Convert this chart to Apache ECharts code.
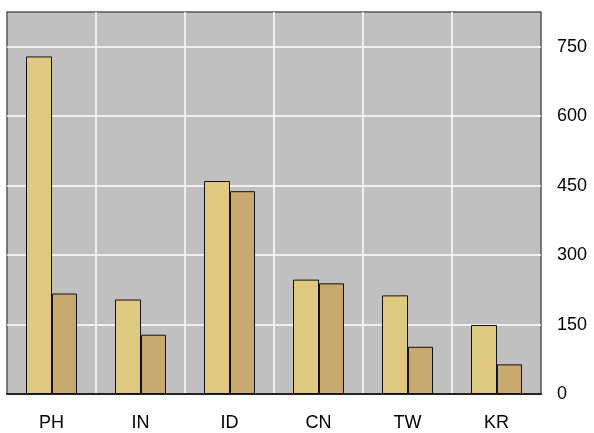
<!DOCTYPE html>
<html><head><meta charset="utf-8">
<script src="https://cdn.jsdelivr.net/npm/echarts@6/dist/echarts.min.js"></script>
<style>html,body{margin:0;padding:0;background:#fff}#c{width:594px;height:433px}</style>
</head><body><div id="c"></div>
<script>
const categories = ["PH","IN","ID","CN","TW","KR"];
const seriesA = [729, 204, 460, 247, 213, 149];
const seriesB = [217, 128, 438, 239, 102, 64];
const yTicks = {min: 0, max: 825, interval: 150};

const chart = echarts.init(document.getElementById('c'), null, {renderer: 'canvas'});
chart.setOption({
  animation: false,
  backgroundColor: '#ffffff',
  grid: {left: 7, right: 53, top: 12, bottom: 39, show: true, backgroundColor: '#c0c0c0', borderColor: '#555555', borderWidth: 1.5},
  xAxis: {
    type: 'category', data: categories,
    axisLine: {show: true, lineStyle: {color: '#222', width: 2}},
    axisTick: {show: false},
    axisLabel: {color: '#000', fontSize: 18, fontFamily: 'Liberation Sans, Arial, sans-serif', margin: 20},
    splitLine: {show: true, showMinLine: false, showMaxLine: false, lineStyle: {color: '#ffffff', width: 1.5}}
  },
  yAxis: {
    type: 'value', position: 'right', min: yTicks.min, max: yTicks.max, interval: yTicks.interval,
    axisLine: {show: false}, axisTick: {show: false},
    axisLabel: {color: '#000', fontSize: 18, fontFamily: 'Liberation Sans, Arial, sans-serif', margin: 16, showMaxLabel: false},
    splitLine: {show: true, showMinLine: false, showMaxLine: false, lineStyle: {color: '#ffffff', width: 1.5}}
  },
  series: [
    {type: 'bar', data: seriesA, barWidth: 26, barGap: '0%', itemStyle: {color: '#dfc981', borderColor: '#111', borderWidth: 1}},
    {type: 'bar', data: seriesB, barWidth: 25, barGap: '0%', itemStyle: {color: '#c8aa6e', borderColor: '#111', borderWidth: 1}}
  ]
});
</script></body></html>
